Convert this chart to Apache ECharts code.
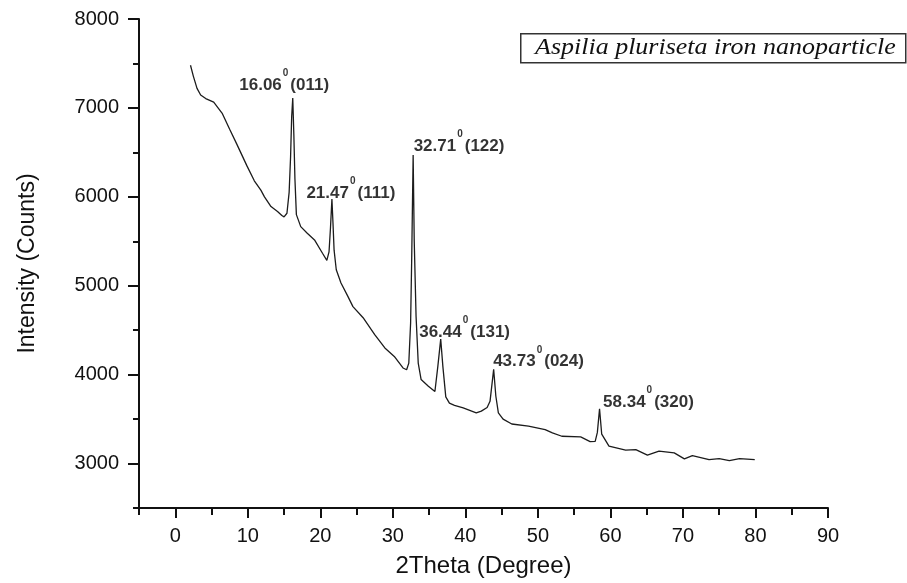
<!DOCTYPE html>
<html>
<head>
<meta charset="utf-8">
<script src="https://cdn.jsdelivr.net/npm/echarts@6/dist/echarts.min.js"></script>
<style>
  html, body { margin: 0; padding: 0; background: #fff; }
  #xrd { width: 907px; height: 583px; }
</style>
</head>
<body>
<div id="xrd"></div>
<script>
const twoTheta = [
  2.1, 2.5, 3.0, 3.5, 4.2, 5.3, 6.5, 7.5, 8.5, 9.9, 10.9, 11.8, 12.3, 13.2, 14.1, 14.7, 15.0, 15.4,
  15.7, 15.9, 16.05, 16.2, 16.35, 16.5, 16.7, 17.3, 18.2, 19.2, 20.3, 20.9, 21.2, 21.4, 21.6, 21.75,
  21.9, 22.2, 22.85, 23.8, 24.5, 25.9, 27.5, 28.9, 30.2, 31.4, 31.9, 32.2, 32.45, 32.6, 32.8, 32.95,
  33.2, 33.5, 33.9, 34.9, 35.8, 36.2, 36.6, 36.9, 37.3, 37.8, 38.5, 39.7, 41.5, 42.2, 43.0, 43.4,
  43.9, 44.2, 44.55, 45.2, 46.4, 48.7, 51.0, 52.0, 53.3, 55.9, 57.2, 57.9, 58.2, 58.5, 58.8, 59.8,
  62.1, 63.5, 65.1, 66.7, 68.8, 70.2, 71.3, 73.6, 75.0, 76.4, 77.8, 79.9
];
const intensity = [
  7480, 7355, 7220, 7145, 7105, 7065, 6935, 6760, 6590, 6345, 6180, 6075, 6000, 5890, 5835, 5790, 5775, 5815,
  6050, 6450, 6900, 7110, 6700, 6200, 5800, 5665, 5590, 5515, 5365, 5285, 5380, 5650, 5975, 5700,
  5400, 5180, 5030, 4880, 4765, 4640, 4450, 4300, 4205, 4075, 4055, 4130, 4580, 5300, 6470, 5500,
  4660, 4130, 3945, 3870, 3810, 4090, 4400, 4090, 3750, 3680, 3655, 3625, 3570, 3590, 3630, 3700,
  4060, 3760, 3570, 3500, 3445, 3420, 3382, 3345, 3307, 3300, 3247, 3250, 3350, 3615, 3330, 3195,
  3150, 3157, 3094, 3139, 3120, 3053, 3090, 3045, 3056, 3034, 3056, 3045
];

// labelled reflections
const peakTheta = [16.2, 21.6, 32.8, 36.6, 43.9, 58.5];
const peakIntensity = [7110, 5975, 6470, 4400, 4060, 3615];
const peakAngles = ['16.06', '21.47', '32.71', '36.44', '43.73', '58.34'];
const peakPlanes = ['(011)', '(111)', '(122)', '(131)', '(024)', '(320)'];

const xTicks = [0, 10, 20, 30, 40, 50, 60, 70, 80, 90];
const xMinorTicks = [-5, 5, 15, 25, 35, 45, 55, 65, 75, 85];
const yTicks = [3000, 4000, 5000, 6000, 7000, 8000];
const yMinorTicks = [2500, 3500, 4500, 5500, 6500, 7500];

const sampleName = 'Aspilia pluriseta iron nanoparticle';

// label offsets from each peak top, in px
const labelOffsets = [[-53, -12], [-25, -5], [1, -8], [-21, -6], [0, -7], [4, -6]];

const ink = '#111';
const font = "'Liberation Sans', Arial, sans-serif";

const chart = echarts.init(document.getElementById('xrd'));

const xBase = { type: 'value', min: -5, max: 90, position: 'bottom', splitLine: { show: false } };
const yBase = { type: 'value', min: 2500, max: 8000, position: 'left', splitLine: { show: false } };

chart.setOption({
  animation: false,
  backgroundColor: '#fff',
  grid: { left: 139, right: 79, top: 19, bottom: 75 },
  graphic: [
    {
      type: 'rect',
      left: 520,
      top: 33,
      shape: { width: 385, height: 29 },
      style: { fill: '#fff', stroke: '#333', lineWidth: 1.5 }
    },
    {
      type: 'text',
      x: 535,
      y: 48,
      scaleX: 1.13,
      style: {
        text: sampleName,
        fontFamily: "'Liberation Serif', 'Times New Roman', serif",
        fontStyle: 'italic',
        fontSize: 23,
        fill: ink,
        verticalAlign: 'middle'
      }
    }
  ],
  xAxis: [
    Object.assign({}, xBase, {
      name: '2Theta (Degree)',
      nameLocation: 'middle',
      nameGap: 46,
      nameTextStyle: { fontFamily: font, fontSize: 24, color: ink },
      axisLine: { onZero: false, lineStyle: { color: ink, width: 2 } },
      axisTick: { customValues: xTicks, length: 10, lineStyle: { color: ink, width: 2 } },
      axisLabel: { customValues: xTicks, margin: 18, fontFamily: font, fontSize: 20, color: ink }
    }),
    Object.assign({}, xBase, {
      axisLine: { show: false, onZero: false },
      axisLabel: { show: false },
      axisTick: { customValues: xMinorTicks, length: 7, lineStyle: { color: ink, width: 2 } }
    })
  ],
  yAxis: [
    Object.assign({}, yBase, {
      name: 'Intensity (Counts)',
      nameLocation: 'middle',
      nameGap: 100,
      nameTextStyle: { fontFamily: font, fontSize: 23, color: ink },
      axisLine: { show: true, onZero: false, lineStyle: { color: ink, width: 2 } },
      axisTick: { show: true, customValues: yTicks, length: 11, lineStyle: { color: ink, width: 2 } },
      axisLabel: {
        customValues: yTicks, margin: 20, fontFamily: font, fontSize: 20, color: ink,
        formatter: (v) => String(v)
      }
    }),
    Object.assign({}, yBase, {
      axisLine: { show: false, onZero: false },
      axisLabel: { show: false },
      axisTick: { show: true, customValues: yMinorTicks, length: 6, lineStyle: { color: ink, width: 2 } }
    })
  ],
  series: [
    {
      type: 'line',
      data: twoTheta.map((t, i) => [t, intensity[i]]),
      showSymbol: false,
      symbol: 'none',
      lineStyle: { color: '#1c1c1c', width: 1.3 },
      z: 3
    },
    {
      type: 'scatter',
      symbolSize: 1,
      itemStyle: { color: 'rgba(0,0,0,0)' },
      silent: true,
      z: 4,
      data: peakTheta.map((t, i) => ({
        value: [t, peakIntensity[i]],
        label: {
          show: true,
          position: labelOffsets[i],
          align: 'left',
          verticalAlign: 'middle',
          formatter: '{v|' + peakAngles[i] + '}{s|0}{v|' + peakPlanes[i] + '}'
        }
      })),
      label: {
        rich: {
          v: { fontFamily: font, fontWeight: 'bold', fontSize: 17, color: '#000' },
          s: { fontFamily: font, fontWeight: 'bold', fontSize: 10, color: '#000', padding: [0, 2, 24, 1] }
        }
      }
    }
  ]
});
</script>
</body>
</html>
